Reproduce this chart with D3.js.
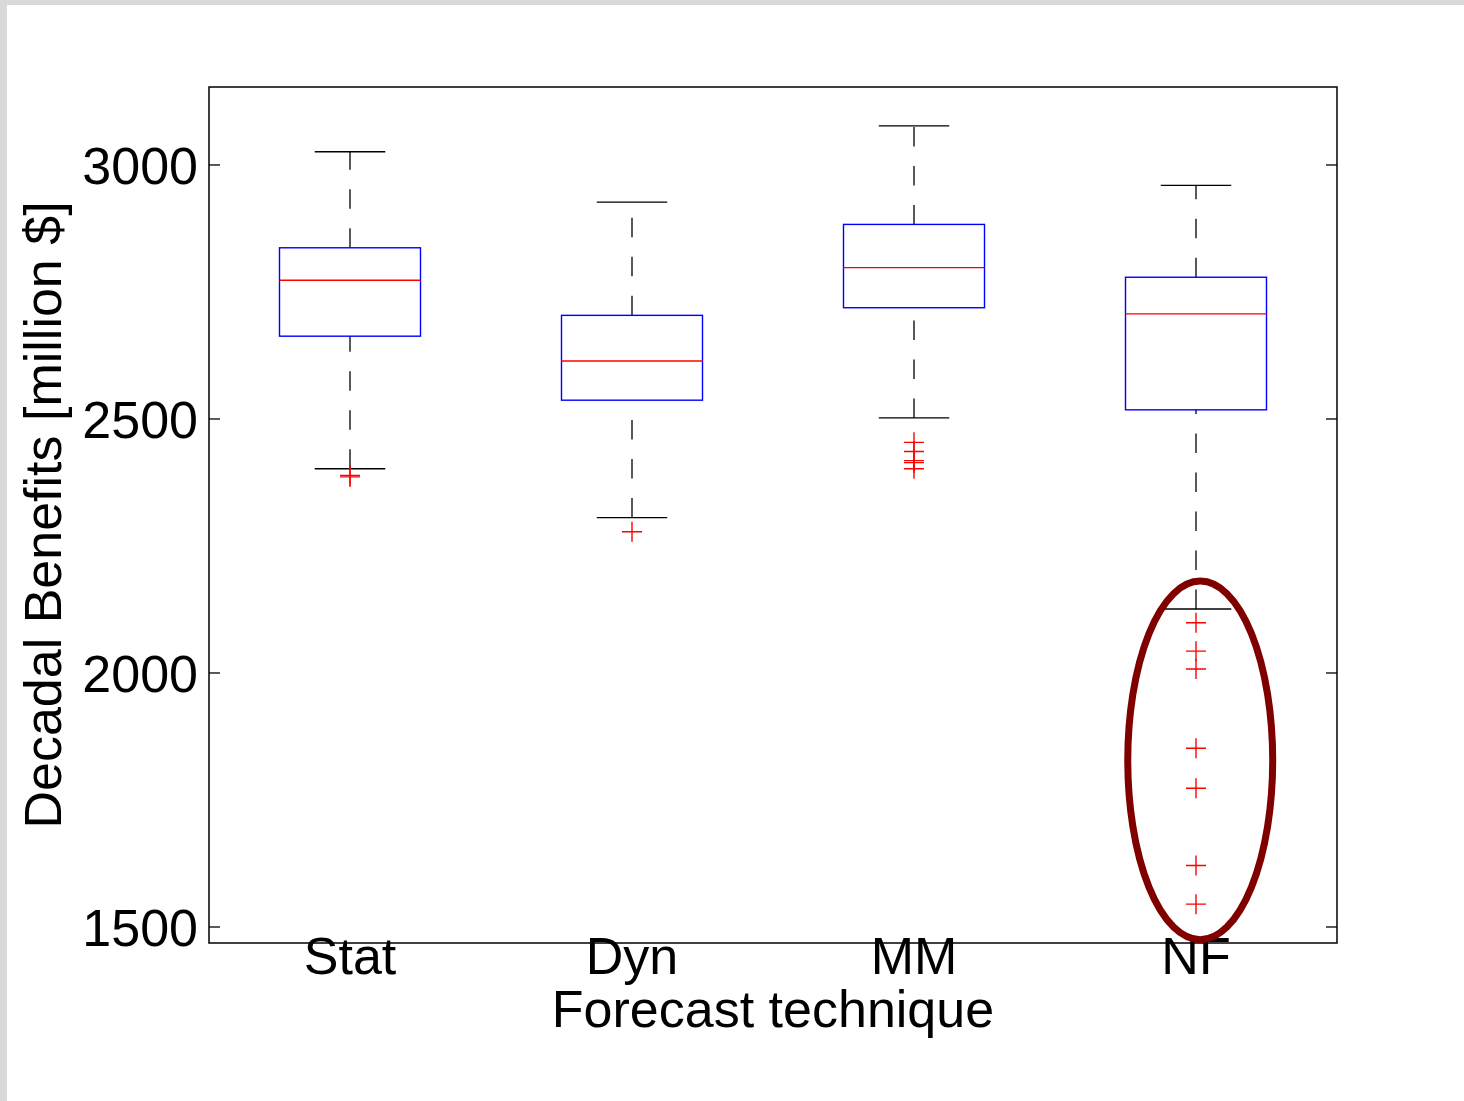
<!DOCTYPE html>
<html>
<head>
<meta charset="utf-8">
<script src="https://cdn.jsdelivr.net/npm/d3@7"></script>
<style>
  html, body { margin: 0; padding: 0; background: #fff; }
  svg { display: block; font-family: "Liberation Sans", Arial, Helvetica, sans-serif; }
</style>
</head>
<body>
<div id="chart"></div>
<script>
// Box plot summary
const categories = ['Stat', 'Dyn', 'MM', 'NF'];
const upperWhisker = [3025, 2926, 3076, 2959];
const q3 = [2836, 2703, 2882, 2778];
const medians = [2772, 2613, 2797, 2706];
const q1 = [2662, 2536, 2718, 2517];
const lowerWhisker = [2401, 2305, 2501, 2125];
const outliers = [
  [2388, 2385],
  [2277],
  [2453, 2435, 2417, 2413, 2401],
  [2098, 2042, 2007, 1851, 1772, 1620, 1544]
];
const yTicks = [1500, 2000, 2500, 3000];

// highlight ellipse around the NF outliers (position in category units, value units)
const highlightPos = 4.015;
const highlightValue = 1827;
const highlightHalfWidth = 0.257;
const highlightHalfRange = 353;

const W = 1464, H = 1101;
const margin = { top: 87, right: 127, bottom: 158, left: 209 };
const fontSize = 52;

const svg = d3.select('#chart')
  .append('svg')
  .attr('width', W)
  .attr('height', H);

// grey page edges
svg.append('rect').attr('x', 0).attr('y', 0).attr('width', W).attr('height', 5).attr('fill', '#d9d9d9');
svg.append('rect').attr('x', 0).attr('y', 0).attr('width', 7).attr('height', H).attr('fill', '#d9d9d9');

const x = d3.scaleLinear()
  .domain([0.5, categories.length + 0.5])
  .range([margin.left, W - margin.right]);

const y = d3.scaleLinear()
  .domain([1467.5, 3152.5])
  .range([H - margin.bottom, margin.top]);

const step = x(2) - x(1);
const boxW = step * 0.5;
const capW = step * 0.25;

// axes (ticks inward)
const leftAxis = svg.append('g')
  .attr('transform', `translate(${margin.left},0)`)
  .call(d3.axisLeft(y).tickValues(yTicks).tickSize(-11).tickPadding(11).tickFormat(d3.format('d')));
leftAxis.select('.domain').remove();
leftAxis.selectAll('line').attr('stroke', '#000').attr('stroke-width', 1.3);
leftAxis.selectAll('text')
  .attr('font-size', fontSize)
  .attr('font-family', '"Liberation Sans", Arial, Helvetica, sans-serif')
  .attr('fill', '#000')
  .attr('dy', '0.37em');

const rightAxis = svg.append('g')
  .attr('transform', `translate(${W - margin.right},0)`)
  .call(d3.axisRight(y).tickValues(yTicks).tickSize(-11).tickFormat(''));
rightAxis.select('.domain').remove();
rightAxis.selectAll('line').attr('stroke', '#000').attr('stroke-width', 1.3);

// frame
svg.append('rect')
  .attr('x', x.range()[0])
  .attr('y', y.range()[1])
  .attr('width', x.range()[1] - x.range()[0])
  .attr('height', y.range()[0] - y.range()[1])
  .attr('fill', 'none')
  .attr('stroke', '#000')
  .attr('stroke-width', 1.5);

const boxes = svg.append('g');

categories.forEach((c, i) => {
  const cx = x(i + 1);
  const g = boxes.append('g');

  // whiskers, drawn upward from the lower end so the dash pattern starts there
  g.append('line')
    .attr('x1', cx).attr('x2', cx)
    .attr('y1', y(q3[i])).attr('y2', y(upperWhisker[i]))
    .attr('stroke', '#000').attr('stroke-width', 1.3)
    .attr('stroke-dasharray', '19.5,19.5');
  g.append('line')
    .attr('x1', cx).attr('x2', cx)
    .attr('y1', y(lowerWhisker[i])).attr('y2', y(q1[i]))
    .attr('stroke', '#000').attr('stroke-width', 1.3)
    .attr('stroke-dasharray', '19.5,19.5');

  // caps
  [upperWhisker[i], lowerWhisker[i]].forEach((v) => {
    g.append('line')
      .attr('x1', cx - capW / 2).attr('x2', cx + capW / 2)
      .attr('y1', y(v)).attr('y2', y(v))
      .attr('stroke', '#000').attr('stroke-width', 1.3);
  });

  // box
  g.append('rect')
    .attr('x', cx - boxW / 2)
    .attr('y', y(q3[i]))
    .attr('width', boxW)
    .attr('height', y(q1[i]) - y(q3[i]))
    .attr('fill', 'none')
    .attr('stroke', '#0000ff')
    .attr('stroke-width', 1.4);

  // median
  g.append('line')
    .attr('x1', cx - boxW / 2).attr('x2', cx + boxW / 2)
    .attr('y1', y(medians[i])).attr('y2', y(medians[i]))
    .attr('stroke', '#ff0000').attr('stroke-width', 1.4);

  // outliers as + markers
  outliers[i].forEach((v) => {
    const py = y(v);
    g.append('path')
      .attr('d', `M${cx - 10},${py}H${cx + 10}M${cx},${py - 10}V${py + 10}`)
      .attr('stroke', '#ff0000')
      .attr('stroke-width', 1.4)
      .attr('fill', 'none');
  });
});

// category labels (they sit over the bottom axis line, as in the original)
svg.append('g')
  .selectAll('text')
  .data(categories)
  .enter()
  .append('text')
  .attr('x', (d, i) => x(i + 1))
  .attr('y', 974)
  .attr('text-anchor', 'middle')
  .attr('font-size', fontSize)
  .attr('fill', '#000')
  .text((d) => d);

// highlight ellipse
svg.append('ellipse')
  .attr('cx', x(highlightPos))
  .attr('cy', y(highlightValue))
  .attr('rx', x(highlightPos + highlightHalfWidth) - x(highlightPos))
  .attr('ry', y(highlightValue - highlightHalfRange) - y(highlightValue))
  .attr('fill', 'none')
  .attr('stroke', '#800000')
  .attr('stroke-width', 7);

// axis titles
svg.append('text')
  .attr('x', (x.range()[0] + x.range()[1]) / 2)
  .attr('y', 1027)
  .attr('text-anchor', 'middle')
  .attr('font-size', fontSize)
  .attr('fill', '#000')
  .text('Forecast technique');

svg.append('text')
  .attr('transform', `translate(61,${(y.range()[0] + y.range()[1]) / 2}) rotate(-90)`)
  .attr('text-anchor', 'middle')
  .attr('font-size', fontSize)
  .attr('fill', '#000')
  .text('Decadal Benefits [million $]');
</script>
</body>
</html>
